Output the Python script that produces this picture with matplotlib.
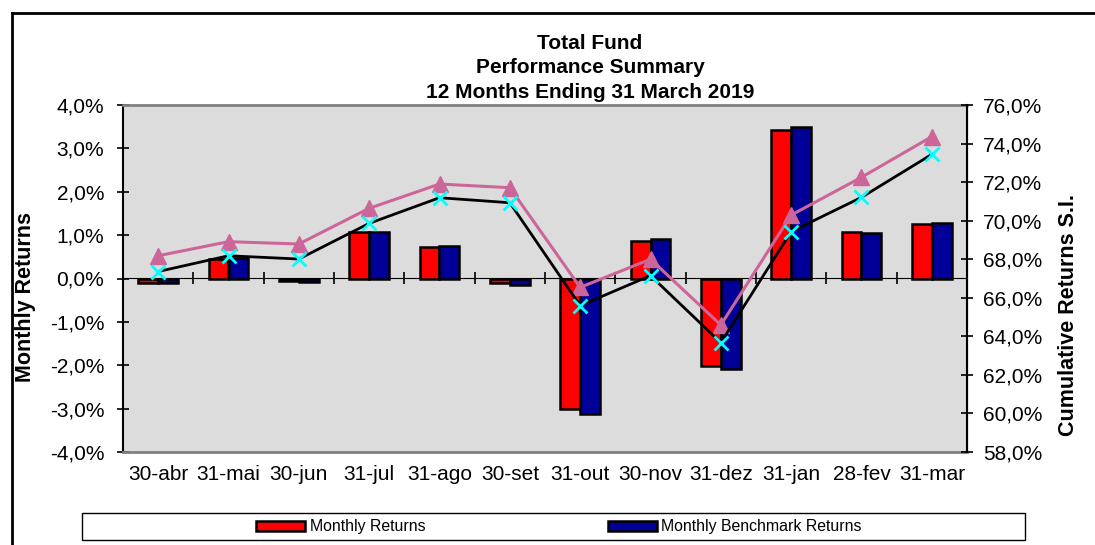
import numpy as np
import matplotlib.pyplot as plt
from matplotlib.lines import Line2D
from matplotlib.patches import Rectangle

plt.rcParams['font.family'] = ['Liberation Sans', 'DejaVu Sans']

months = ['30-abr', '31-mai', '30-jun', '31-jul', '31-ago', '30-set',
          '31-out', '30-nov', '31-dez', '31-jan', '28-fev', '31-mar']
fund_monthly = [-0.10, 0.45, -0.05, 1.08, 0.72, -0.10, -3.01, 0.86, -2.02, 3.42, 1.08, 1.25]
bench_monthly = [-0.10, 0.48, -0.07, 1.08, 0.76, -0.15, -3.13, 0.92, -2.09, 3.50, 1.04, 1.27]
fund_cumulative = [68.18, 68.91, 68.79, 70.64, 71.90, 71.71, 66.54, 68.00, 64.59, 70.29, 72.25, 74.36]
bench_cumulative = [67.36, 68.18, 68.01, 69.86, 71.19, 70.93, 65.59, 67.15, 63.67, 69.43, 71.21, 73.44]

W, H = 1095, 545
fig = plt.figure(figsize=(W / 100, H / 100), dpi=100)
fig.patch.set_facecolor('white')
ax = fig.add_axes((123 / W, 1 - 452 / H, (967 - 123) / W, (452 - 105) / H))
ax.set_facecolor('#dcdcdc')

x = np.arange(len(months))
bw = 0.28
b1 = ax.bar(x - bw / 2, fund_monthly, bw, color='#ff0000', edgecolor='black', linewidth=1.8, zorder=3)
b2 = ax.bar(x + bw / 2, bench_monthly, bw, color='#000099', edgecolor='black', linewidth=1.8, zorder=3)

ax.set_xlim(-0.5, len(months) - 0.5)
ax.set_ylim(-4, 4)
ax.set_yticks(np.arange(-4, 5, 1))
ax.set_yticklabels([f'{v:.1f}%'.replace('.', ',') for v in np.arange(-4, 5, 1)])
ax.set_xticks(x)
ax.set_xticklabels(months)
ax.tick_params(axis='x', length=0, pad=9, labelsize=15)
ax.tick_params(axis='y', direction='inout', length=9, width=1.2, labelsize=15, pad=9)

for s in ('top', 'bottom'):
    ax.spines[s].set_color('#808080')
    ax.spines[s].set_linewidth(2)
ax.spines['left'].set_linewidth(1.5)

# zero line with category separators
sec = ax.secondary_xaxis(0.5)
sec.set_xticks(np.arange(0.5, len(months) - 1, 1))
sec.set_xticklabels([])
sec.tick_params(direction='inout', length=9, width=1.2)
sec.spines['bottom'].set_linewidth(1.5)

ax.set_ylabel('Monthly Returns', fontsize=15.5, weight='bold')
ax.yaxis.set_label_coords(-0.103, 0.447)

ax2 = ax.twinx()
ax2.set_ylim(58, 76)
ax2.set_yticks(np.arange(58, 77, 2))
ax2.set_yticklabels([f'{v:.1f}%'.replace('.', ',') for v in np.arange(58, 77, 2)])
ax2.tick_params(axis='y', direction='inout', length=9, width=1.2, labelsize=15, pad=7)
ax2.spines['right'].set_linewidth(1.5)
for s in ('top', 'bottom', 'left'):
    ax2.spines[s].set_visible(False)

ax2.plot(x, fund_cumulative, color='#cc6699', lw=2.2, marker='^', ms=12, zorder=4)
ax2.plot(x, bench_cumulative, color='black', lw=2, marker='x', ms=10, mew=2,
         mec='#00ffff', zorder=5)
ax2.set_ylabel('Cumulative Returns S.I.', fontsize=15.5, weight='bold', rotation=90)
ax2.yaxis.set_label_coords(1.108, 0.395)

titles = ['Total Fund', 'Performance Summary', '12 Months Ending 31 March 2019']
for i, t in enumerate(titles):
    fig.text(590 / W, 1 - (43 + 24.5 * i) / H, t, ha='center', va='center',
             fontsize=15, weight='bold')

fig.legend([b1, b2], ['Monthly Returns', 'Monthly Benchmark Returns'],
           loc='center', bbox_to_anchor=(559 / W, 1 - 527 / H), ncol=2,
           frameon=False, columnspacing=11.5, handlelength=3.1, handleheight=0.6,
           handletextpad=0.3, fontsize=11.4)
fig.add_artist(Rectangle((82 / W, 1 - 540 / H), (1025 - 82) / W, 27 / H,
                         transform=fig.transFigure, fill=False, edgecolor='black', lw=1))

# outer chart frame (cut off at right and bottom)
fig.add_artist(Line2D([12 / W, 12 / W], [0, 1 - 13 / H], color='black', lw=2,
                      transform=fig.transFigure))
fig.add_artist(Line2D([12 / W, 1], [1 - 13 / H, 1 - 13 / H], color='black', lw=2,
                      transform=fig.transFigure))

fig.savefig('out.png', dpi=100)
